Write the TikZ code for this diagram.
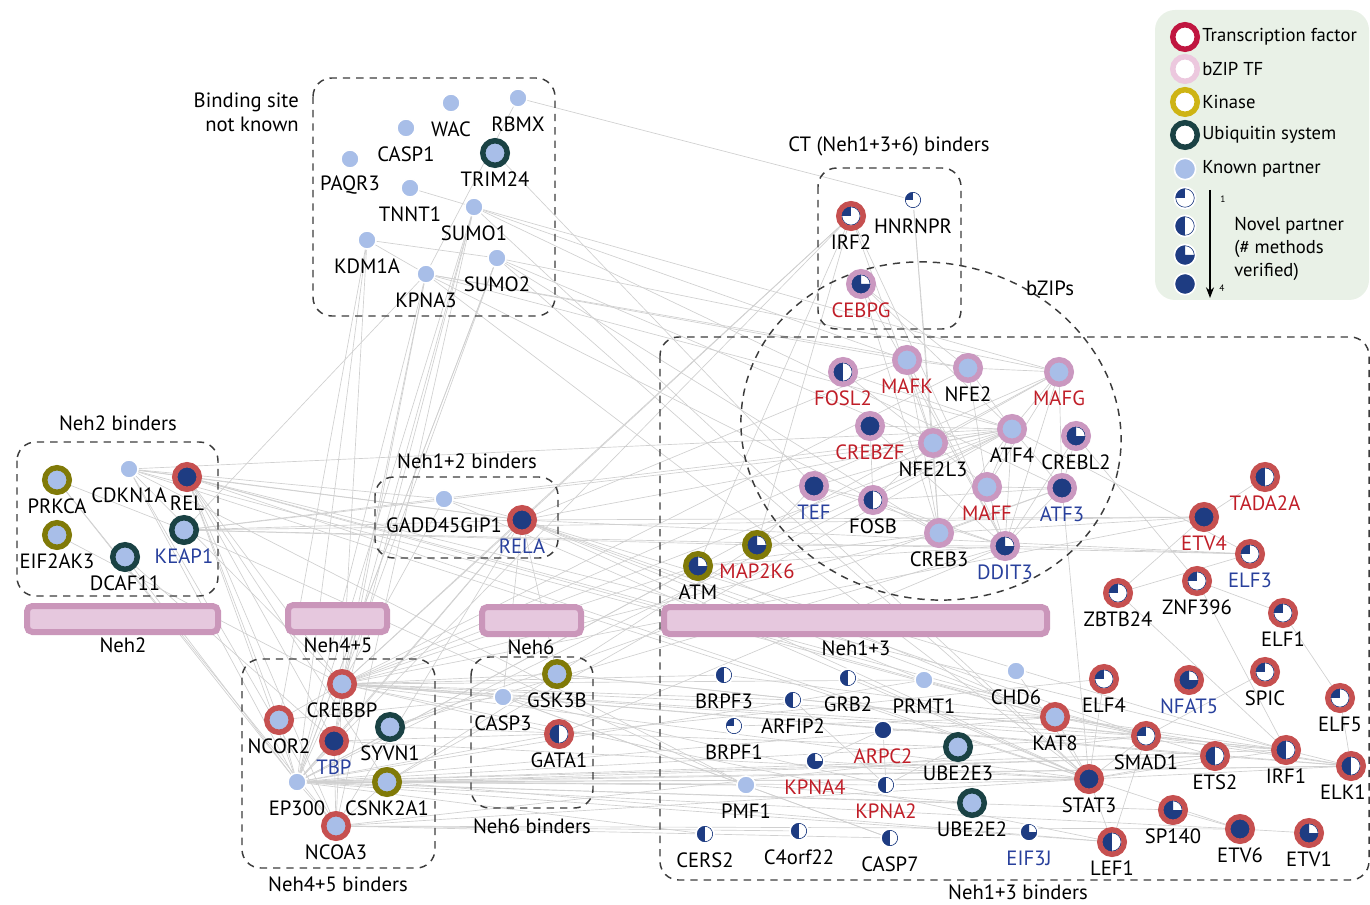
\documentclass[tikz,border=0pt]{standalone}
\usepackage{fontspec}
\setmainfont{PT Sans}
\usetikzlibrary{backgrounds,arrows.meta}

\definecolor{tfred}{RGB}{198,80,80}
\definecolor{bzpink}{RGB}{202,152,192}
\definecolor{kinolive}{RGB}{128,122,8}
\definecolor{ubteal}{RGB}{26,66,68}
\definecolor{knownblue}{RGB}{168,190,232}
\definecolor{novelblue}{RGB}{30,60,130}
\definecolor{lblred}{RGB}{192,30,40}
\definecolor{lblblue}{RGB}{40,64,156}
\definecolor{linkgray}{RGB}{208,208,208}
\definecolor{grpgray}{RGB}{60,60,60}
\definecolor{dompink}{RGB}{202,150,186}
\definecolor{domfill}{RGB}{230,200,222}
\definecolor{legbg}{RGB}{233,241,231}
\definecolor{legtf}{RGB}{192,22,64}
\definecolor{legbz}{RGB}{236,200,222}
\definecolor{legki}{RGB}{206,180,20}

\newcommand\lblfont{\fontsize{15.5}{18}\selectfont}
\newcommand\legfont{\fontsize{14}{17}\selectfont}

\tikzset{
  pr/.store in=\pieR, pr=5.8pt,
  prot/.style={circle, inner sep=0pt, outer sep=0pt},
  ringed/.style={prot, line width=4.1pt, minimum size=18.4pt, pr=6.85pt},
  tf/.style={ringed, draw=tfred},
  bz/.style={ringed, draw=bzpink},
  ki/.style={ringed, draw=kinolive},
  ub/.style={ringed, draw=ubteal},
  no/.style={prot, draw=white, line width=1.2pt, minimum size=13.6pt, pr=5.8pt},
  kn/.style={fill=knownblue},
  % novel partner: white disc, blue share = methods verified
  pie/.style={fill=white, path picture={
      \fill[novelblue] #1;
      \draw[novelblue, line width=0.6pt] (path picture bounding box.center) circle[radius=\pieR];}},
  p1/.style={pie={(path picture bounding box.center) rectangle (path picture bounding box.north west)}},
  p2/.style={pie={(path picture bounding box.north west) rectangle (path picture bounding box.south)}},
  p3/.style={pie={(path picture bounding box.north west) rectangle (path picture bounding box.south)
      (path picture bounding box.center) rectangle (path picture bounding box.south east)}},
  p4/.style={fill=novelblue},
  lk/.style={font=\lblfont, text=black, inner sep=0pt},
  lr/.style={lk, text=lblred},
  lb/.style={lk, text=lblblue},
  grp/.style={draw=grpgray, line width=1.1pt, dash pattern=on 5.5pt off 4.5pt, rounded corners=14pt},
  dom/.style={draw=dompink, fill=domfill, line width=4.5pt, rounded corners=4pt},
  link/.style={draw=linkgray, line width=0.5pt},
  ttl/.style={font=\lblfont, inner sep=0pt},
  leg/.style={font=\legfont, inner sep=0pt},
}

\begin{document}
\begin{tikzpicture}[x=0.75pt,y=0.75pt,yscale=-1,xscale=1]
\useasboundingbox (0,0) rectangle (1370,905);

% legend
\fill[legbg] (1155,10) [rounded corners=15pt] rectangle (1369,300);
\node[tf, draw=legtf, fill=white] (lgtf) at (1185,37) {};
\node[bz, draw=legbz, fill=white] (lgbz) at (1185,69) {};
\node[ki, draw=legki, fill=white] (lgki) at (1185,102) {};
\node[ub, fill=white] (lgub) at (1185,135) {};
\node[no, kn, minimum size=16pt] (lgkn) at (1185,169) {};
\node[no, p1, minimum size=16pt, pr=7pt] (lgp1) at (1185,198) {};
\node[no, p2, minimum size=16pt, pr=7pt] (lgp2) at (1185,226) {};
\node[no, p3, minimum size=16pt, pr=7pt] (lgp3) at (1185,255) {};
\node[no, p4, minimum size=16pt] (lgp4) at (1185,284) {};
\node[leg, anchor=west] (lgtf t) at (1202,37) {Transcription factor};
\node[leg, anchor=west] (lgbz t) at (1202,69) {bZIP TF};
\node[leg, anchor=west] (lgki t) at (1202,102) {Kinase};
\node[leg, anchor=west] (lgub t) at (1202,135) {Ubiquitin system};
\node[leg, anchor=west] (lgkn t) at (1202,169) {Known partner};
\coordinate (arr top) at (1210,190);
\coordinate (arr end) at (1210,298);
\draw[-{Stealth[length=8pt,width=6pt]}, line width=1pt] (arr top) -- (arr end);
\node[font=\fontsize{7}{8}\selectfont, inner sep=0pt] (lg one) at (1223,199) {1};
\node[font=\fontsize{7}{8}\selectfont, inner sep=0pt] (lg four) at (1222,288) {4};
\node[leg, anchor=west, align=left] (lg novel) at (1234,249) {Novel partner\\(\# methods\\verified)};

% groups
\draw[grp] (313,78) rectangle (555,316);
\draw[grp] (818,168) rectangle (961,329);
\draw[grp] (17,442) rectangle (218,596);
\draw[grp] (375,477) rectangle (558,558);
\draw[grp] (242,659) rectangle (435,868);
\draw[grp] (471,657) rectangle (593,808);
\draw[grp] (660,337) rectangle (1369,880);
\draw[grp, rounded corners=0pt, rotate around={12:(931,431)}] (931,431) ellipse [x radius=191, y radius=168];

\node[ttl, align=right, anchor=east] (t unk) at (299,112) {Binding site\\not known};
\node[ttl] (t ct) at (889,146) {CT (Neh1+3+6) binders};
\node[ttl] (t bzip) at (1050,288) {bZIPs};
\node[ttl] (t neh2) at (118,423) {Neh2 binders};
\node[ttl] (t neh12) at (467,461) {Neh1+2 binders};
\node[ttl] (t neh45) at (338,884) {Neh4+5 binders};
\node[ttl] (t neh6) at (532,826) {Neh6 binders};
\node[ttl] (t neh13) at (1018,892) {Neh1+3 binders};

% domains of NRF2
\draw[dom] (27,606) rectangle (218,632);
\draw[dom] (288,605) rectangle (387,632);
\draw[dom] (482,607) rectangle (581,634);
\draw[dom] (664,607) rectangle (1047,634);
\node[ttl] (d neh2) at (123,645) {Neh2};
\node[ttl] (d neh45) at (338,645) {Neh4+5};
\node[ttl] (d neh6) at (531,647) {Neh6};
\node[ttl] (d neh13) at (856,648) {Neh1+3};

% partners
\foreach \n/\x/\y/\r/\i/\t/\c in {
  wac/451/103/no/kn/WAC/lk, rbmx/518/98/no/kn/RBMX/lk, casp1/406/128/no/kn/CASP1/lk,
  trim24/495/153/ub/kn/TRIM24/lk, paqr3/350/159/no/kn/PAQR3/lk, tnnt1/410/188/no/kn/TNNT1/lk,
  sumo1/474/207/no/kn/SUMO1/lk, kdm1a/367/240/no/kn/KDM1A/lk, sumo2/497/258/no/kn/SUMO2/lk,
  kpna3/426/274/no/kn/KPNA3/lk,
  irf2/851/216/tf/p1/IRF2/lk, hnrnpr/913/200/no/p1/HNRNPR/lk, cebpg/861/284/bz/p3/CEBPG/lr,
  prkca/57/480/ki/kn/PRKCA/lk, cdkn1a/129/469/no/kn/CDKN1A/lk, rel/187/477/tf/p4/REL/lk,
  eif2ak3/57/535/ki/kn/EIF2AK3/lk, keap1/184/530/ub/kn/KEAP1/lb, dcaf11/125/557/ub/kn/DCAF11/lk,
  gadd/444/499/no/kn/GADD45GIP1/lk, rela/522/520/tf/p4/RELA/lb,
  crebbp/342/684/tf/kn/CREBBP/lk, ncor2/279/720/tf/kn/NCOR2/lk, tbp/334/741/tf/p4/TBP/lb,
  syvn1/390/727/ub/kn/SYVN1/lk, ep300/297/782/no/kn/EP300/lk, csnk2a1/387/782/ki/kn/CSNK2A1/lk,
  ncoa3/336/826/tf/kn/NCOA3/lk,
  gsk3b/557/674/ki/kn/GSK3B/lk, casp3/503/697/no/kn/CASP3/lk, gata1/559/734/tf/p2/GATA1/lk,
  fosl2/843/372/bz/p2/FOSL2/lr, mafk/907/360/bz/kn/MAFK/lr, nfe2/968/368/bz/kn/NFE2/lk,
  mafg/1059/372/bz/kn/MAFG/lr, crebzf/870/426/bz/p4/CREBZF/lr, nfe2l3/933/443/bz/kn/NFE2L3/lk,
  atf4/1012/429/bz/kn/ATF4/lk, crebl2/1076/436/bz/p3/CREBL2/lk, tef/814/486/bz/p4/TEF/lb,
  fosb/873/500/bz/p2/FOSB/lk, maff/987/487/bz/kn/MAFF/lr, atf3/1062/488/bz/p4/ATF3/lb,
  creb3/939/533/bz/kn/CREB3/lk, ddit3/1005/546/bz/p3/DDIT3/lb,
  map2k6/757/545/ki/p3/MAP2K6/lr, atm/698/566/ki/p3/ATM/lk,
  tada2a/1265/477/tf/p2/TADA2A/lr, etv4/1204/517/tf/p4/ETV4/lr, elf3/1250/554/tf/p1/ELF3/lb,
  znf396/1197/581/tf/p1/ZNF396/lk, zbtb24/1118/593/tf/p1/ZBTB24/lk, elf1/1283/613/tf/p1/ELF1/lk,
  spic/1265/672/tf/p1/SPIC/lk, elf4/1104/679/tf/p1/ELF4/lk, nfat5/1189/680/tf/p3/NFAT5/lb,
  elf5/1340/698/tf/p1/ELF5/lk, kat8/1055/717/tf/kn/KAT8/lk, smad1/1146/736/tf/p1/SMAD1/lk,
  ets2/1215/756/tf/p2/ETS2/lk, irf1/1286/750/tf/p2/IRF1/lk,
  stat3/1089/779/tf/p4/STAT3/lk, sp140/1173/810/tf/p3/SP140/lk, etv6/1240/829/tf/p4/ETV6/lk,
  etv1/1309/833/tf/p3/ETV1/lk, lef1/1112/842/tf/p2/LEF1/lk,
  brpf3/724/675/no/p2/BRPF3/lk, grb2/848/678/no/p2/GRB2/lk, prmt1/924/680/no/kn/PRMT1/lk,
  chd6/1016/671/no/kn/CHD6/lk, arfip2/793/700/no/p2/ARFIP2/lk, brpf1/734/726/no/p1/BRPF1/lk,
  arpc2/883/730/no/p4/ARPC2/lr, ube2e3/958/747/ub/kn/UBE2E3/lk, kpna4/815/761/no/p3/KPNA4/lr,
  kpna2/886/785/no/p2/KPNA2/lr, pmf1/746/785/no/kn/PMF1/lk, ube2e2/972/803/ub/kn/UBE2E2/lk,
  cers2/705/834/no/p2/CERS2/lk, c4orf22/799/831/no/p2/C4orf22/lk, casp7/890/838/no/p2/CASP7/lk,
  eif3j/1029/832/no/p3/EIF3J/lb}
{
  \node[\r,\i] (\n) at (\x,\y) {};
  \node[\c] (l\n) at (\x,\y+26) {\t};
}
% ELK1 sits at the right edge: its label is pulled in a little
\node[tf, p2] (elk1) at (1351,766) {};
\node[lk, anchor=east] (lelk1) at (1366,792) {ELK1};

% interactions
\begin{scope}[on background layer]
\foreach \a/\b in {
  cdkn1a/rel, cdkn1a/rela, cdkn1a/gadd, cdkn1a/crebbp, cdkn1a/ep300, cdkn1a/pmf1, cdkn1a/ncoa3,
  cdkn1a/stat3, cdkn1a/kat8, cdkn1a/atf4, prkca/keap1, prkca/ncoa3, prkca/ep300, eif2ak3/crebbp,
  rel/rela, rel/crebbp, rel/ep300, rel/ncoa3, rel/tbp, rel/stat3, rel/smad1, rel/irf1, rel/csnk2a1,
  rel/ncor2, rel/kat8, keap1/rela, keap1/map2k6, keap1/pmf1, keap1/elf3, keap1/etv4, keap1/atf4,
  keap1/nfe2l3, keap1/kpna3, dcaf11/ep300, dcaf11/tbp,
  gadd/rela, gadd/crebbp, gadd/stat3, rela/crebbp, rela/ep300, rela/ncoa3, rela/stat3, rela/irf1,
  rela/atf4, rela/etv4, rela/elf3, rela/kat8, rela/prmt1, rela/casp3, rela/gsk3b, rela/tbp,
  rela/smad1, rela/mafk,
  crebbp/ep300, crebbp/ncoa3, crebbp/tbp, crebbp/ncor2, crebbp/stat3, crebbp/smad1, crebbp/kat8,
  crebbp/atf4, crebbp/mafg, crebbp/irf2, crebbp/prmt1, crebbp/gata1, crebbp/sumo1, crebbp/kdm1a,
  crebbp/etv4, crebbp/creb3, crebbp/nfe2, crebbp/ets2, crebbp/elk1, crebbp/irf1, crebbp/casp3,
  crebbp/gsk3b, crebbp/kpna3, crebbp/sumo2, crebbp/atm, crebbp/lef1, crebbp/arfip2, crebbp/brpf3,
  ep300/ncoa3, ep300/tbp, ep300/ncor2, ep300/stat3, ep300/smad1, ep300/gata1, ep300/kat8,
  ep300/atf4, ep300/ets2, ep300/irf1, ep300/elk1, ep300/lef1, ep300/etv6, ep300/sp140,
  ep300/kpna3, ep300/sumo1, ep300/sumo2, ep300/irf2, ep300/pmf1, ep300/cers2, ep300/ube2e2,
  ep300/mafg, ep300/atm, ep300/csnk2a1, ep300/prmt1,
  ncor2/kdm1a, ncor2/casp3, tbp/stat3, tbp/ncoa3, tbp/kpna3, syvn1/atf3, syvn1/ube2e3,
  syvn1/ddit3, csnk2a1/ncoa3, csnk2a1/pmf1, csnk2a1/stat3, csnk2a1/ets2, csnk2a1/elk1,
  csnk2a1/lef1, csnk2a1/kpna2, csnk2a1/atf4, csnk2a1/gsk3b, ncoa3/stat3, ncoa3/etv6,
  ncoa3/smad1, ncoa3/casp7, ncoa3/c4orf22,
  gsk3b/irf1, gsk3b/smad1, gsk3b/map2k6, casp3/casp7, casp3/kpna2, gata1/elf4, gata1/ddit3,
  gata1/tbp,
  rbmx/hnrnpr, rbmx/kpna3, trim24/tef, tnnt1/sumo1, kdm1a/sumo2, kdm1a/kpna3, kdm1a/ep300,
  kpna3/stat3, kpna3/nfe2, kpna3/atf4, kpna3/mafk, kpna3/creb3, sumo1/mafk, sumo1/mafg,
  sumo1/stat3, sumo1/tbp, sumo1/atf3, sumo1/ncoa3, sumo2/mafg, sumo2/ep300, sumo2/nfe2l3,
  sumo2/creb3, sumo2/stat3,
  irf2/map2k6, irf2/atm, irf2/rela, irf2/ddit3, irf2/nfe2l3, hnrnpr/creb3, hnrnpr/nfe2l3,
  cebpg/atf4, cebpg/ddit3, cebpg/creb3, cebpg/nfe2,
  mafk/nfe2, mafk/nfe2l3, mafk/creb3, nfe2/mafg, nfe2/atf4, mafg/atf4, mafg/maff, mafg/ddit3,
  fosl2/nfe2l3, fosl2/atf4, fosl2/mafk, crebzf/atf4, crebzf/ddit3, crebzf/fosb, nfe2l3/mafg,
  nfe2l3/maff, nfe2l3/atf4, atf4/ddit3, atf4/atf3, atf4/creb3, atf4/maff, atf4/tef,
  crebl2/ddit3, crebl2/atf3, tef/fosb, tef/ddit3, fosb/ddit3, fosb/nfe2l3, fosb/atf3,
  maff/nfe2, maff/atf3, maff/ddit3, atf3/ddit3, atf3/mafg, atf3/creb3, creb3/nfe2l3,
  ddit3/mafk, map2k6/tef, map2k6/ddit3, map2k6/atf4, atm/creb3, atm/ddit3, atm/kat8,
  brpf3/kat8, brpf1/kat8, casp7/casp3, pmf1/ube2e2, kpna2/stat3, kpna4/stat3, kpna2/ube2e3,
  prmt1/smad1, grb2/stat3, chd6/stat3, arfip2/kpna2, arpc2/kpna2, kpna4/arpc2,
  tada2a/etv4, etv4/zbtb24, elf3/zbtb24, znf396/elf1, znf396/irf1, zbtb24/irf1, elf1/elf5,
  spic/smad1, elf4/stat3, stat3/smad1, stat3/ets2, stat3/irf1, stat3/elk1, stat3/etv6,
  stat3/atf3, smad1/ets2, smad1/irf1, smad1/elk1, smad1/lef1, etv6/etv1, sp140/etv6,
  irf1/elk1, ets2/elk1, kat8/stat3, kat8/smad1, kat8/irf1, kat8/elk1, lef1/stat3,
  crebl2/znf396, ddit3/elf3, elf3/atf4, etv4/creb3, elk1/elf5}
  \draw[link] (\a) -- (\b);
\end{scope}
\end{tikzpicture}
\end{document}
